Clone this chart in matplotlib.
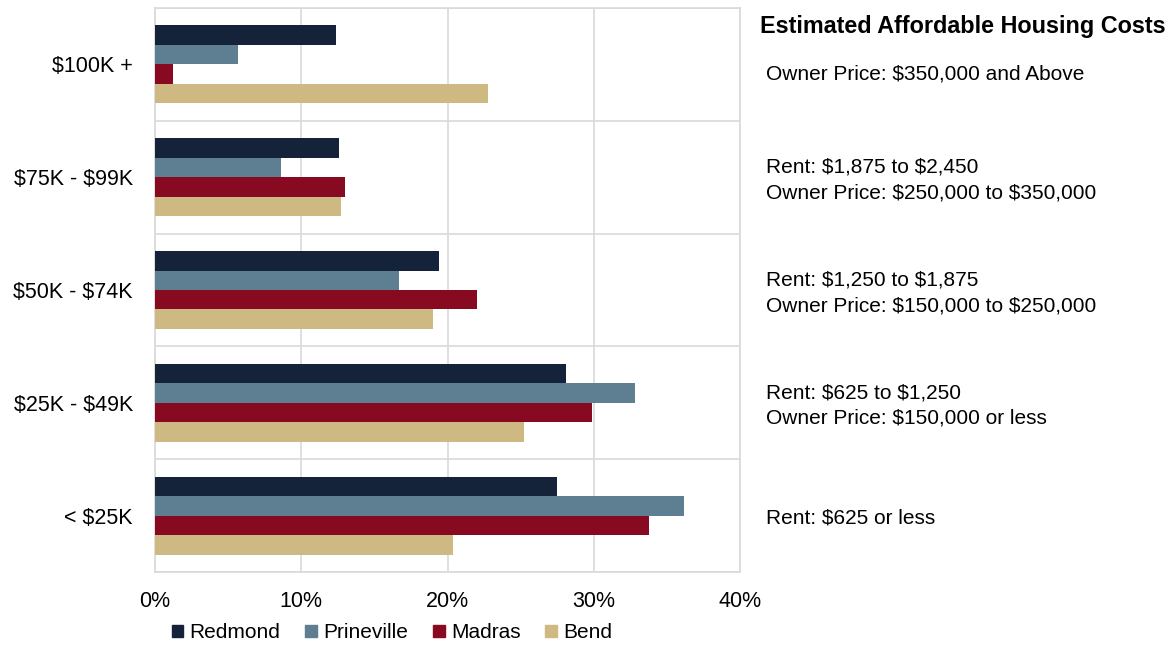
import matplotlib
matplotlib.use("Agg")
import matplotlib.pyplot as plt
from matplotlib.patches import Patch
import numpy as np

plt.rcParams['font.family'] = ['Liberation Sans', 'DejaVu Sans']
plt.rcParams['text.parse_math'] = False

categories = ["< $25K", "$25K - $49K", "$50K - $74K", "$75K - $99K", "$100K +"]
redmond = [27.5, 28.1, 19.4, 12.6, 12.4]
prineville = [36.2, 32.8, 16.7, 8.6, 5.7]
madras = [33.8, 29.9, 22.0, 13.0, 1.2]
bend = [20.4, 25.2, 19.0, 12.7, 22.8]
series_names = ["Redmond", "Prineville", "Madras", "Bend"]
colors = ["#14223A", "#5E7F91", "#880A20", "#CFB982"]
annotations = [
    "Rent: $625 or less",
    "Rent: $625 to $1,250\nOwner Price: $150,000 or less",
    "Rent: $1,250 to $1,875\nOwner Price: $150,000 to $250,000",
    "Rent: $1,875 to $2,450\nOwner Price: $250,000 to $350,000",
    "Owner Price: $350,000 and Above",
]
title = "Estimated Affordable Housing Costs"
xticks = [0, 10, 20, 30, 40]

fig = plt.figure(figsize=(11.76, 6.48), dpi=100)
ax = fig.add_axes([155/1176, 76/648, 585/1176, 564/648])

y = np.arange(len(categories))
h = 0.1726
offsets = [1.5*h, 0.5*h, -0.5*h, -1.5*h]
for vals, off, c in zip([redmond, prineville, madras, bend], offsets, colors):
    ax.barh(y + off, vals, height=h, color=c, zorder=3)

ax.set_xlim(0, 40)
ax.set_ylim(-0.5, len(categories) - 0.5)
ax.set_xticks(xticks)
ax.set_xticklabels([f"{t}%" for t in xticks], fontsize=15.5)
ax.set_yticks(y)
ax.set_yticklabels(categories, fontsize=15.5)
ax.set_yticks(np.arange(-0.5, len(categories), 1.0), minor=True)
ax.tick_params(axis='x', length=0, pad=14)
ax.tick_params(axis='y', which='both', length=0, pad=16)
ax.grid(axis='x', which='major', color='#D9D9D9', lw=1.2, zorder=0)
ax.grid(axis='y', which='minor', color='#D9D9D9', lw=1.2, zorder=0)
ax.grid(axis='y', which='major', visible=False)
for s in ax.spines.values():
    s.set_color('#D9D9D9')
    s.set_linewidth(1.2)

for i, (yi, txt) in enumerate(zip(y, annotations)):
    dy = -7 if i == len(categories) - 1 else -2
    ax.annotate(txt, xy=(1, yi), xycoords=('axes fraction', 'data'),
                xytext=(19, dy), textcoords='offset points', fontsize=15,
                va='center', ha='left', linespacing=1.45, annotation_clip=False)

fig.text(760/1176, 1 - 26/648, title, fontsize=16.8, fontweight='bold',
         va='center', ha='left')

handles = [Patch(color=c, label=n) for c, n in zip(colors, series_names)]
fig.legend(handles=handles, loc='center', bbox_to_anchor=(392/1176, 1 - 633/648),
           ncol=4, frameon=False, fontsize=15, handlelength=0.55, handleheight=0.55,
           handletextpad=0.3, columnspacing=1.2)

fig.savefig("out.png", dpi=100)
